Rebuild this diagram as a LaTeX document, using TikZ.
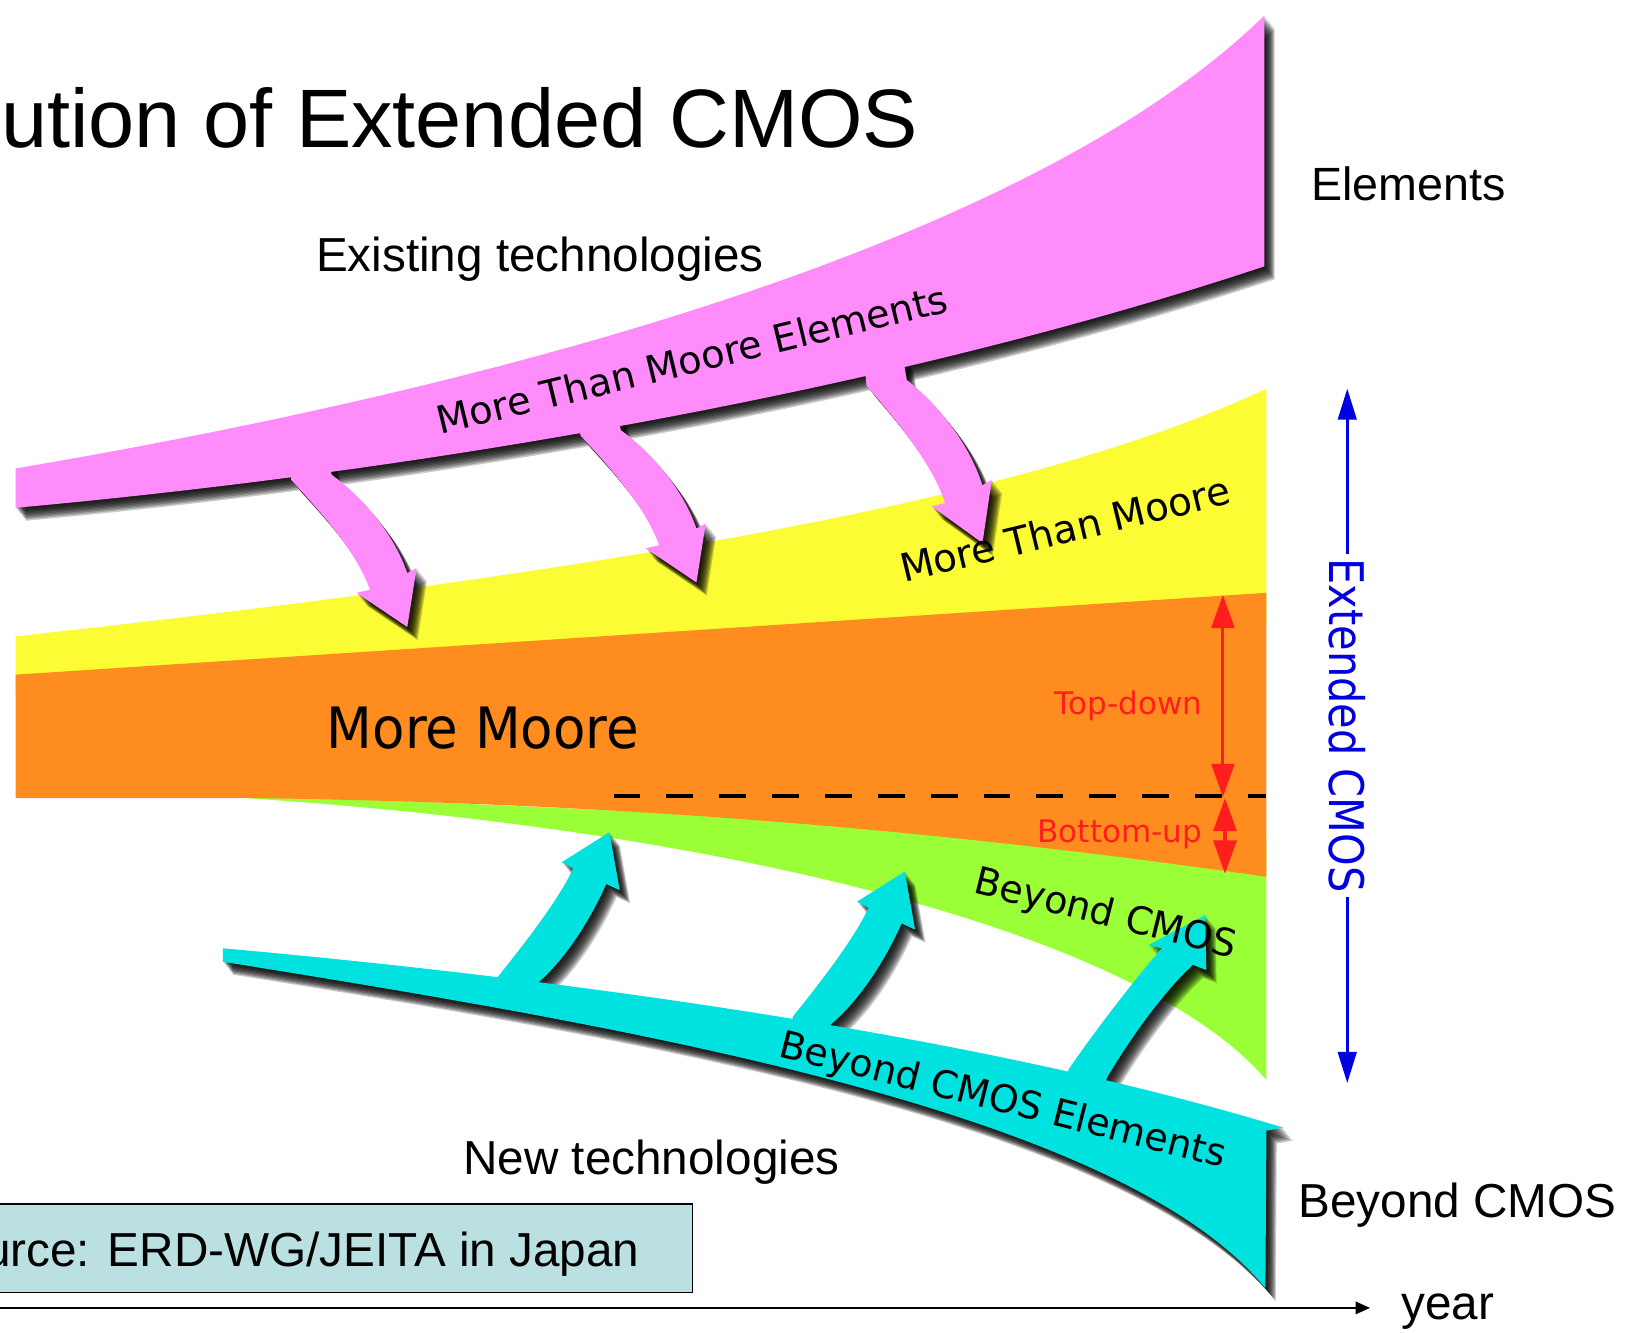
\documentclass[tikz,border=0pt]{standalone}
\usepackage{fontspec}
\usepackage{graphicx}
\setmainfont{Liberation Sans}
\newfontfamily\comic{DejaVu Sans}
\usetikzlibrary{arrows.meta}
\definecolor{pinkC}{RGB}{255,140,250}
\definecolor{yellowC}{RGB}{252,252,52}
\definecolor{orangeC}{RGB}{255,140,30}
\definecolor{greenC}{RGB}{155,255,55}
\definecolor{cyanC}{RGB}{0,226,224}
\definecolor{boxC}{RGB}{186,224,226}
\definecolor{redA}{RGB}{255,30,30}
\definecolor{blueA}{RGB}{0,0,225}
\newcommand\fs[1]{\fontsize{#1}{#1}\selectfont}
% shapes
\def\PBand{(15,-452) .. controls (500,-370) and (1000,-230) .. (1220,-15) -- (1220,-257) .. controls (850,-380) and (400,-455) .. (15,-490) -- cycle}
\def\PArrow{(279,-440) -- (281,-463) .. controls (315,-500) and (345,-535) .. (357,-569) -- (344,-572) -- (393,-605) -- (402,-548) -- (393,-553) .. controls (380,-515) and (350,-480) .. (320,-458) -- (316,-436) -- cycle}
\def\CBand{(215,-915) .. controls (550,-945) and (950,-1000) .. (1238,-1088) -- (1222,-1091) -- (1221,-1243) .. controls (1080,-1070) and (600,-990) .. (215,-928) -- cycle}
\def\CArrowB{(762,-1000) -- (765,-981) .. controls (790,-950) and (825,-905) .. (838,-876) -- (827,-870) -- (873,-841) -- (883,-897) -- (870,-891) .. controls (855,-925) and (830,-965) .. (801,-989) -- (798,-1008) -- cycle}
\def\CArrowC{(1028,-1050) -- (1031,-1032) .. controls (1060,-990) and (1095,-945) .. (1121,-915) -- (1108,-912) -- (1163,-883) -- (1164,-936) -- (1151,-931) .. controls (1125,-955) and (1095,-995) .. (1068,-1040) -- (1065,-1056) -- cycle}
\newcommand\shadowfill[2]{\foreach \k in {1,...,10}{\fill[black,opacity=0.2,shift={(1.0*\k,-1.25*\k)},#2] #1;}}
\begin{document}
\begin{tikzpicture}[x=1pt,y=1pt,
  lbl/.style={inner sep=0pt, outer sep=0pt},
  arial/.style={lbl, font=\fs{46}},
  redtip/.style={{Triangle[length=32pt,width=22pt]}-{Triangle[length=32pt,width=22pt]}},
  bluetip/.style={{Triangle[length=30pt,width=18pt]}-{Triangle[length=30pt,width=18pt]}}]
\useasboundingbox (0,-1286) rectangle (1568,0);
% coloured bands
\fill[yellowC] (15,-614) .. controls (600,-550) and (1000,-480) .. (1222,-375) -- (1222,-600) -- (15,-670) -- cycle;
\fill[greenC] (235,-766) -- (1222,-810) -- (1222,-1042) .. controls (1100,-900) and (700,-800) .. (235,-770) -- cycle;
\fill[orangeC] (15,-651) -- (1222,-572) -- (1222,-846) .. controls (900,-800) and (600,-775) .. (240,-770) -- (15,-770) -- cycle;
% pink band and arrows
\shadowfill{\PBand}{}
\shadowfill{\PArrow}{}
\shadowfill{\PArrow}{shift={(279,43)}}
\shadowfill{\PArrow}{shift={(836,-372)},yscale=1.07,shift={(-281,463)}}
\fill[pinkC] \PArrow;
\fill[pinkC,shift={(279,43)}] \PArrow;
\fill[pinkC,shift={(836,-372)},yscale=1.07,shift={(-281,463)}] \PArrow;
\fill[pinkC] \PBand;
% cyan band and arrows
\shadowfill{\CBand}{}
\shadowfill{\CArrowB}{shift={(-285,38)}}
\shadowfill{\CArrowB}{}
\shadowfill{\CArrowC}{}
\fill[cyanC,shift={(-285,38)}] \CArrowB;
\fill[cyanC] \CArrowB;
\fill[cyanC] \CArrowC;
\fill[cyanC] \CBand;
% dashed split line
\coordinate (dashL) at (592,-768);
\coordinate (dashR) at (1222,-768);
\draw[line width=4pt, dash pattern=on 26pt off 25pt] (dashL) -- (dashR);
% red arrows
\coordinate (tdA) at (1180,-574);
\coordinate (tdB) at (1180,-769);
\coordinate (buA) at (1182,-770);
\coordinate (buB) at (1182,-843);
\draw[redA, line width=3pt, redtip] (tdA) -- (tdB);
\draw[redA, line width=3.5pt, redtip] (buA) -- (buB);
\node[lbl,anchor=base east,text=redA] (td) at (1160,-689) {\fs{30}\comic Top-down};
\node[lbl,anchor=base east,text=redA] (bu) at (1160,-813) {\fs{30}\comic Bottom-up};
% blue arrow
\coordinate (e1) at (1300,-375);
\coordinate (e2) at (1300,-1045);
\draw[blueA, line width=2.5pt, bluetip] (e1) -- (e2);
\node[fill=white, inner sep=4pt, rotate=-90, text=blueA] (ext) at (1300,-700) {\scalebox{0.87}[1]{\fs{46}\comic Extended CMOS}};
% band labels
\node[lbl,anchor=base,rotate=13.6] (mtme) at (671,-360) {\fs{37}\comic More Than Moore Elements};
\node[lbl,anchor=base,rotate=13.6] (mtm) at (1031,-524) {\fs{37.5}\comic More Than Moore};
\node[lbl,anchor=base] (mm) at (466,-722) {\scalebox{0.93}[1]{\fs{55}\comic More Moore}};
\node[lbl,anchor=base,rotate=-14] (bc) at (1064,-893) {\fs{36.7}\comic Beyond CMOS};
\node[lbl,anchor=base,rotate=-14] (bce) at (965,-1073) {\fs{36.7}\comic Beyond CMOS Elements};
% plain labels
\node[lbl,anchor=base east] (title) at (886,-142) {\fs{80}ution of Extended CMOS};
\node[lbl,anchor=base west] (elem) at (1265,-193) {\fs{45}Elements};
\node[arial,anchor=base west] (exist) at (305,-262) {Existing technologies};
\node[arial,anchor=base west] (newt) at (447,-1133) {New technologies};
\node[arial,anchor=base west] (bcm) at (1253,-1175) {Beyond CMOS};
% source box
\draw[line width=1.5pt, fill=boxC] (-10,-1162) rectangle (668,-1247);
\node[arial,anchor=base east] (src) at (617,-1222) {urce: ERD-WG/JEITA in Japan};
% time axis
\coordinate (ax0) at (-5,-1262);
\coordinate (ax1) at (1322,-1262);
\draw[line width=2pt,-{Triangle[length=14pt,width=12pt]}] (ax0) -- (ax1);
\node[arial,anchor=base west] (year) at (1352,-1273) {year};
\end{tikzpicture}
\end{document}
